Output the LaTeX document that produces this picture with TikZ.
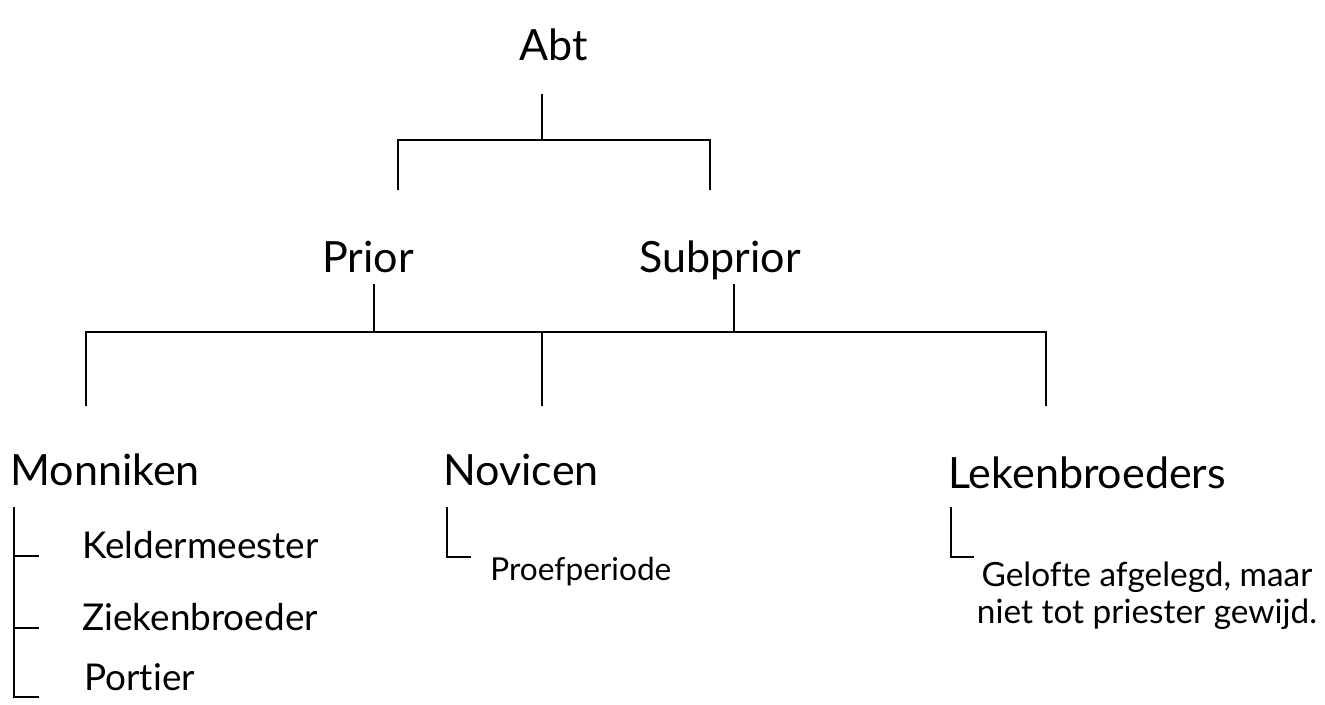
\documentclass[tikz,border=0pt]{standalone}
\usepackage{fontspec}
\setmainfont[Ligatures={NoCommon}]{Lato}
\usepackage{tikz}
\usetikzlibrary{positioning,calc}
\tikzset{
  rank/.style={inner sep=0pt, font=\fontsize{24.5}{28}\selectfont},
  duty/.style={inner sep=0pt, anchor=base west, font=\fontsize{21}{25}\selectfont},
  note/.style={inner sep=0pt, font=\fontsize{18}{19.3}\selectfont},
  tree/.style={line width=1.1pt, line cap=rect},
}

\begin{document}
\begin{tikzpicture}[x=0.02cm, y=-0.02cm]
  \useasboundingbox (0,0) rectangle (1325,704);
  % Top: Abt
  \node[rank, anchor=base] at (554,60) (abt) {Abt};
  \coordinate (abtD) at (542,95);
  \coordinate (abtJ) at (542,140);
  \coordinate (priorU) at (398,189);
  \coordinate (subU) at (710,189);
  \draw[tree] (abtD) -- (abtJ);
  \draw[tree] (priorU) |- (abtJ) -| (subU);
  % Prior and Subprior
  \node[rank, anchor=base] at (368,272) (prior) {Prior};
  \node[rank, anchor=base] at (720,272) (subprior) {Subprior};
  \coordinate (priorD) at (374,285);
  \coordinate (subD) at (734,285);
  \coordinate (bar) at (542,332);
  \coordinate (monU) at (86,405);
  \coordinate (novU) at (542,405);
  \coordinate (lekU) at (1046,405);
  \draw[tree] (priorD) -- (priorD |- bar);
  \draw[tree] (subD) -- (subD |- bar);
  \draw[tree] (monU) |- (bar) -| (lekU);
  \draw[tree] (bar) -- (novU);
  % Monniken
  \node[rank, anchor=base west] at (10,485) (monniken) {Monniken};
  \node[duty] at (82,558) (kelder) {Keldermeester};
  \node[duty] at (82,630) (zieken) {Ziekenbroeder};
  \node[duty] at (84,690) (portier) {Portier};
  \coordinate (monB) at (14,508);
  \coordinate (keldT) at (38,556);
  \coordinate (ziekT) at (38,628);
  \coordinate (portT) at (38,697);
  \draw[tree] (monB) |- (portT);
  \draw[tree] (monB |- keldT) -- (keldT);
  \draw[tree] (monB |- ziekT) -- (ziekT);
  % Novicen
  \node[rank, anchor=base west] at (443,485) (novicen) {Novicen};
  \node[note, anchor=base west] at (490,580) (proef) {Proefperiode};
  \coordinate (novB) at (447,508);
  \coordinate (novT) at (470,557);
  \draw[tree] (novB) |- (novT);
  % Lekenbroeders
  \node[rank, anchor=base west] at (948,488) (leken) {Lekenbroeders};
  \node[note, anchor=base, align=center, font=\fontsize{19}{20.5}\selectfont]
    at (1147,623) (gelofte) {Gelofte afgelegd, maar\\niet tot priester gewijd.};
  \coordinate (lekB) at (951,508);
  \coordinate (lekT) at (973,557);
  \draw[tree] (lekB) |- (lekT);
\end{tikzpicture}
\end{document}
